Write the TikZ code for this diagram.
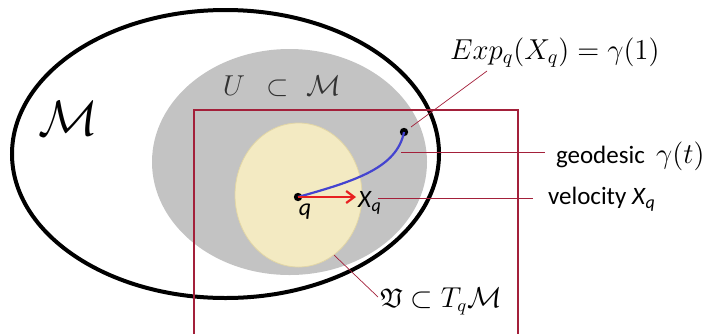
\documentclass[tikz,border=0pt]{standalone}
\usepackage{amssymb}
\usepackage{fontspec}
\newfontfamily\carl{Carlito}
\usetikzlibrary{arrows.meta}
\definecolor{grayfill}{HTML}{C3C3C3}
\definecolor{yellowfill}{HTML}{F3EAC2}
\definecolor{yellowedge}{HTML}{E2D6A6}
\definecolor{leader}{HTML}{A3203A}
\definecolor{geoblue}{HTML}{4444D0}
\definecolor{arrred}{HTML}{E82020}
\tikzset{
  leaderline/.style={draw=leader, line width=0.35pt},
  dot/.style={circle, fill=black, inner sep=0pt, minimum size=4.2pt},
  lbl/.style={inner sep=0pt, outer sep=0pt},
}
\begin{document}
\begin{tikzpicture}[x=0.5pt, y=-0.5pt]
\useasboundingbox (0,0) rectangle (705,333);
% outer manifold
\draw[line width=2pt] (225.5,154) ellipse [x radius=213.5, y radius=144];
% neighbourhood U
\fill[grayfill] (289.5,162) ellipse [x radius=137.5, y radius=113];
% tangent-space ball
\filldraw[fill=yellowfill, draw=yellowedge, line width=0.4pt] (298.5,195) ellipse [x radius=63.5, y radius=72];
% tangent plane frame
\draw[leader, line width=0.65pt] (194,340) -- (194,110) -- (518,110) -- (518,340);
% points
\node[dot] (q) at (298,197) {};
\node[dot] (e) at (404,132) {};
% geodesic
\draw[geoblue, line width=1.1pt] (q.center) .. controls (355,181) and (397,168) .. (e.center);
% velocity arrow
\coordinate (vend) at (356,197);
\draw[arrred, line width=1.1pt, -{Straight Barb[length=4pt,width=6pt]}] (q.center) -- (vend);
% labels
\node[lbl] (M) at (68,118) {\fontsize{24}{24}\selectfont$\mathcal{M}$};
\node[lbl, text=black!80] (U) at (282,86) {\fontsize{15}{15}\selectfont$U\ \,\subset\ \mathcal{M}$};
\node[lbl, anchor=base] (ql) at (305,215) {\fontsize{12}{12}\selectfont\carl\itshape q};
\node[lbl, anchor=base west] (xq) at (358,207) {\fontsize{12.5}{12.5}\selectfont\carl\itshape X\kern0.3pt\raisebox{-2.2pt}{\fontsize{9}{9}\selectfont q}};
\node[lbl, anchor=base west] (exp) at (450,59) {\fontsize{14}{14}\selectfont$Exp_q(X_q)=\gamma(1)$};
\node[lbl, anchor=base west] (geo) at (556,163) {\fontsize{12.5}{12.5}\selectfont\carl geodesic \ \fontsize{14}{14}\selectfont$\gamma(t)$};
\node[lbl, anchor=base west] (vel) at (548,204) {\fontsize{12.5}{12.5}\selectfont\carl velocity \itshape X\kern0.3pt\raisebox{-2.2pt}{\fontsize{9}{9}\selectfont q}};
\node[lbl, anchor=base west] (frak) at (380,307) {\fontsize{13.5}{13.5}\selectfont$\mathfrak{V}\subset T_q\mathcal{M}$};
% leader lines
\coordinate (c1) at (411,127);
\coordinate (c2) at (487,71);
\draw[leaderline] (c1) -- (c2);
\coordinate (g1) at (401,152);
\coordinate (g2) at (545,152);
\draw[leaderline] (g1) -- (g2);
\coordinate (v1) at (378,198);
\coordinate (v2) at (533,198);
\draw[leaderline] (v1) -- (v2);
\coordinate (f1) at (334,255);
\coordinate (f2) at (378,297);
\draw[leaderline] (f1) -- (f2);
\end{tikzpicture}
\end{document}
